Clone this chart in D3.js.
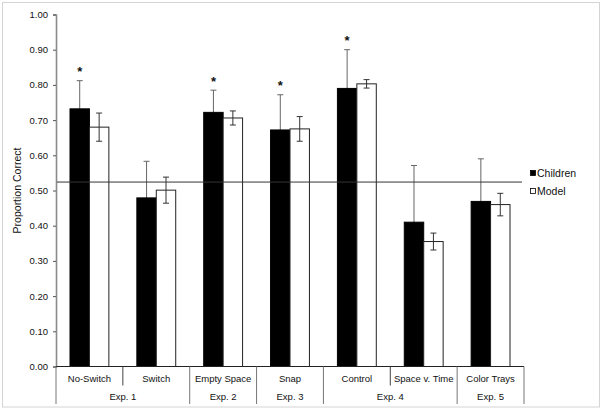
<!DOCTYPE html>
<html><head><meta charset="utf-8">
<script src="https://cdn.jsdelivr.net/npm/d3@7"></script>
<style>body{margin:0;background:#fff}svg{display:block}text{font-family:"Liberation Sans",Arial,sans-serif;fill:#111}</style>
</head><body>
<script>
const categories = ["No-Switch","Switch","Empty Space","Snap","Control","Space v. Time","Color Trays"];
const groups = ["Exp. 1","Exp. 1","Exp. 2","Exp. 3","Exp. 4","Exp. 4","Exp. 5"];
const children = [0.732,0.479,0.722,0.672,0.790,0.410,0.469];
const childrenErr = [0.080,0.104,0.063,0.100,0.110,0.161,0.121];
const model = [0.680,0.501,0.706,0.675,0.803,0.355,0.460];
const modelErr = [0.040,0.037,0.020,0.035,0.012,0.024,0.032];
const significant = [true,false,true,true,true,false,false];
const chance = 0.524;
const yTicks = [0,0.1,0.2,0.3,0.4,0.5,0.6,0.7,0.8,0.9,1.0];
const seriesNames = ["Children","Model"];

const W=603,H=412;
const svg=d3.select("body").append("svg").attr("width",W).attr("height",H);
svg.append("rect").attr("x",2.5).attr("y",2.5).attr("width",597).attr("height",404.5)
  .attr("fill","#fff").attr("stroke","#d4d4d4").attr("stroke-width",1);

const x0=56,x1=524,yTop=14.5,yBot=366.5;
const x=d3.scaleBand().domain(categories).range([x0,x1]).padding(0);
const xs=d3.scaleBand().domain(seriesNames).range([0,x.bandwidth()]).paddingInner(0).paddingOuter(0.72);
const y=d3.scaleLinear().domain([0,1]).range([yBot,yTop]);

// y axis
const yAxis=svg.append("g").attr("transform",`translate(${x0},0)`)
  .call(d3.axisLeft(y).tickValues(yTicks).tickFormat(d3.format(".2f")).tickSize(3).tickPadding(5));
yAxis.select(".domain").attr("stroke","#8a8a8a").attr("stroke-width",1.6);
yAxis.selectAll(".tick line").attr("stroke","#555");
yAxis.selectAll(".tick text").attr("font-size",9.5).attr("fill","#111").style("font-family","Liberation Sans, Arial, sans-serif");

svg.append("text").attr("transform",`translate(21,${(yTop+yBot)/2}) rotate(-90)`)
  .attr("text-anchor","middle").attr("font-size",10.5).text("Proportion Correct");

const data=categories.map((c,i)=>({c,i,vals:[{s:"Children",v:children[i],e:childrenErr[i]},{s:"Model",v:model[i],e:modelErr[i]}]}));
const g=svg.selectAll(".cat").data(data).join("g").attr("transform",d=>`translate(${x(d.c)},0)`);

function drawErr(sel){
  sel.each(function(d){
    const cx=xs(d.s)+xs.bandwidth()/2, s=d3.select(this), col=d.s==="Children"?"#666":"#333";
    s.append("line").attr("x1",cx).attr("x2",cx).attr("y1",y(d.v-d.e)).attr("y2",y(d.v+d.e)).attr("stroke",col).attr("stroke-width",1);
    [d.v-d.e,d.v+d.e].forEach(v=>s.append("line").attr("x1",cx-3).attr("x2",cx+3).attr("y1",y(v)).attr("y2",y(v)).attr("stroke",col).attr("stroke-width",1));
  });
}
// children error bars behind bars (lower half hidden, as in the original)
g.selectAll("g.errc").data(d=>d.vals.filter(v=>v.s==="Children")).join("g").attr("class","errc").call(drawErr);
g.selectAll("rect").data(d=>d.vals).join("rect")
  .attr("x",d=>xs(d.s)).attr("y",d=>y(d.v)).attr("width",xs.bandwidth()).attr("height",d=>y(0)-y(d.v))
  .attr("fill",d=>d.s==="Children"?"#000":"#fff")
  .attr("stroke",d=>d.s==="Children"?"#000":"#222").attr("stroke-width",1);
g.selectAll("g.errm").data(d=>d.vals.filter(v=>v.s==="Model")).join("g").attr("class","errm").call(drawErr);

// asterisks
g.filter(d=>significant[d.i]).append("text")
  .attr("x",xs("Children")+xs.bandwidth()/2).attr("y",d=>y(children[d.i]+childrenErr[d.i])-4.5)
  .attr("text-anchor","middle").attr("font-size",13).attr("font-weight","bold").text("*");

// chance line
svg.append("line").attr("x1",x0+1).attr("x2",x1-2).attr("y1",y(chance)).attr("y2",y(chance)).attr("stroke","#333").attr("stroke-width",1);

// x axis
svg.append("line").attr("x1",x0).attr("x2",x1).attr("y1",yBot).attr("y2",yBot).attr("stroke","#222").attr("stroke-width",1.2);
const row1=385.5,row2=404;
categories.forEach((c,i)=>{
  svg.append("text").attr("x",x(c)+x.bandwidth()/2).attr("y",382).attr("text-anchor","middle").attr("font-size",9.5).text(c);
});
const bounds=[];
for(let i=0;i<=categories.length;i++){
  const isGroup = i===0||i===categories.length||groups[i]!==groups[i-1];
  const bx = i<categories.length? x(categories[i]) : x1;
  svg.append("line").attr("x1",bx).attr("x2",bx).attr("y1",yBot).attr("y2",isGroup?row2:row1)
    .attr("stroke",isGroup?"#777":"#444").attr("stroke-width",1);
  if(isGroup) bounds.push({i,bx});
}
for(let k=0;k<bounds.length-1;k++){
  const a=bounds[k],b=bounds[k+1];
  svg.append("text").attr("x",(a.bx+b.bx)/2).attr("y",400).attr("text-anchor","middle").attr("font-size",9.5).text(groups[a.i]);
}

// legend
const lg=svg.append("g");
seriesNames.forEach((s,i)=>{
  lg.append("rect").attr("x",530.5).attr("y",170.5+i*18).attr("width",5).attr("height",5)
    .attr("fill",s==="Children"?"#000":"#fff").attr("stroke","#000").attr("stroke-width",0.8);
  lg.append("text").attr("x",537).attr("y",177+i*18).attr("font-size",10.5).text(s);
});
</script>
</body></html>
